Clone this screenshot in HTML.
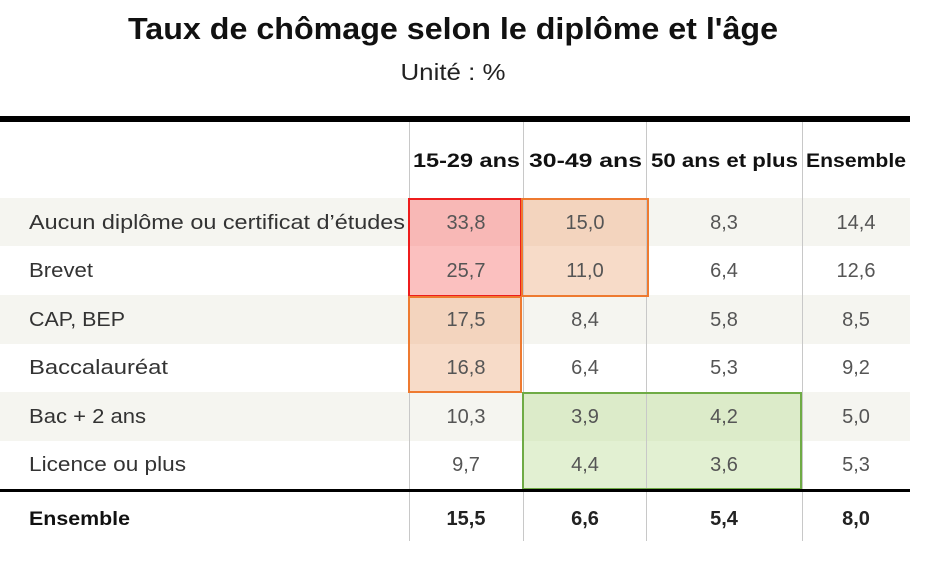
<!DOCTYPE html>
<html><head><meta charset="utf-8"><style>
body{margin:0;background:#fff;}
svg{display:block;font-family:"Liberation Sans",sans-serif;}
</style></head><body>
<svg width="927" height="563" xmlns="http://www.w3.org/2000/svg">
<rect width="927" height="563" fill="#fff"/>
<text x="453" y="39" text-anchor="middle" font-size="31" font-weight="bold" fill="#111" textLength="650" lengthAdjust="spacingAndGlyphs">Taux de chômage selon le diplôme et l'âge</text>
<text x="453" y="80" text-anchor="middle" font-size="23" fill="#222" textLength="105" lengthAdjust="spacingAndGlyphs">Unité : %</text>
<rect x="0" y="116" width="910" height="6" fill="#000"/>
<rect x="0" y="198" width="910" height="48" fill="#f5f5f0"/>
<rect x="0" y="295" width="910" height="49" fill="#f5f5f0"/>
<rect x="0" y="392" width="910" height="49" fill="#f5f5f0"/>
<rect x="409" y="198" width="112" height="48" fill="#f8b8b6"/>
<rect x="409" y="246" width="112" height="50" fill="#fbc0bf"/>
<rect x="521" y="198" width="127" height="48" fill="#f3d4be"/>
<rect x="521" y="246" width="127" height="50" fill="#f7dbc8"/>
<rect x="409" y="296" width="112" height="48" fill="#f3d4be"/>
<rect x="409" y="344" width="112" height="48" fill="#f7dbc8"/>
<rect x="523" y="392" width="278" height="49" fill="#dcebc9"/>
<rect x="523" y="441" width="278" height="48" fill="#e2f0d2"/>
<g stroke="#c8c8c8" stroke-width="1">
<line x1="409.5" y1="122" x2="409.5" y2="541"/>
<line x1="523.5" y1="122" x2="523.5" y2="541"/>
<line x1="646.5" y1="122" x2="646.5" y2="541"/>
<line x1="802.5" y1="122" x2="802.5" y2="541"/>
</g>
<rect x="409" y="199" width="112" height="97" fill="none" stroke="#ee1c1c" stroke-width="2"/>
<rect x="522" y="199" width="126" height="97" fill="none" stroke="#ee7a30" stroke-width="2"/>
<rect x="409" y="297" width="112" height="95" fill="none" stroke="#ee7a30" stroke-width="2"/>
<rect x="523" y="393" width="278" height="96" fill="none" stroke="#6fab45" stroke-width="2"/>
<rect x="0" y="489" width="910" height="3" fill="#000"/>
<g font-size="19" font-weight="bold" fill="#111">
<text x="413" y="167" textLength="107" lengthAdjust="spacingAndGlyphs">15-29 ans</text>
<text x="529" y="167" textLength="113" lengthAdjust="spacingAndGlyphs">30-49 ans</text>
<text x="651" y="167" textLength="147" lengthAdjust="spacingAndGlyphs">50 ans et plus</text>
<text x="806" y="167" textLength="100" lengthAdjust="spacingAndGlyphs">Ensemble</text>
</g>
<g font-size="20" fill="#333">
<text x="29" y="229" textLength="376" lengthAdjust="spacingAndGlyphs">Aucun diplôme ou certificat d’études</text>
<text x="29" y="277" textLength="64" lengthAdjust="spacingAndGlyphs">Brevet</text>
<text x="29" y="326" textLength="96" lengthAdjust="spacingAndGlyphs">CAP, BEP</text>
<text x="29" y="374" textLength="139" lengthAdjust="spacingAndGlyphs">Baccalauréat</text>
<text x="29" y="423" textLength="117" lengthAdjust="spacingAndGlyphs">Bac + 2 ans</text>
<text x="29" y="471" textLength="157" lengthAdjust="spacingAndGlyphs">Licence ou plus</text>
<text x="29" y="525" font-weight="bold" font-size="19" fill="#111" textLength="101" lengthAdjust="spacingAndGlyphs">Ensemble</text>
</g>
<g font-size="20" fill="#555" text-anchor="middle">
<text x="466" y="229">33,8</text><text x="585" y="229">15,0</text><text x="724" y="229">8,3</text><text x="856" y="229">14,4</text>
<text x="466" y="277">25,7</text><text x="585" y="277">11,0</text><text x="724" y="277">6,4</text><text x="856" y="277">12,6</text>
<text x="466" y="326">17,5</text><text x="585" y="326">8,4</text><text x="724" y="326">5,8</text><text x="856" y="326">8,5</text>
<text x="466" y="374">16,8</text><text x="585" y="374">6,4</text><text x="724" y="374">5,3</text><text x="856" y="374">9,2</text>
<text x="466" y="423">10,3</text><text x="585" y="423">3,9</text><text x="724" y="423">4,2</text><text x="856" y="423">5,0</text>
<text x="466" y="471">9,7</text><text x="585" y="471">4,4</text><text x="724" y="471">3,6</text><text x="856" y="471">5,3</text>
</g>
<g font-size="20" font-weight="bold" fill="#222" text-anchor="middle">
<text x="466" y="525">15,5</text><text x="585" y="525">6,6</text><text x="724" y="525">5,4</text><text x="856" y="525">8,0</text>
</g>
</svg>
</body></html>
